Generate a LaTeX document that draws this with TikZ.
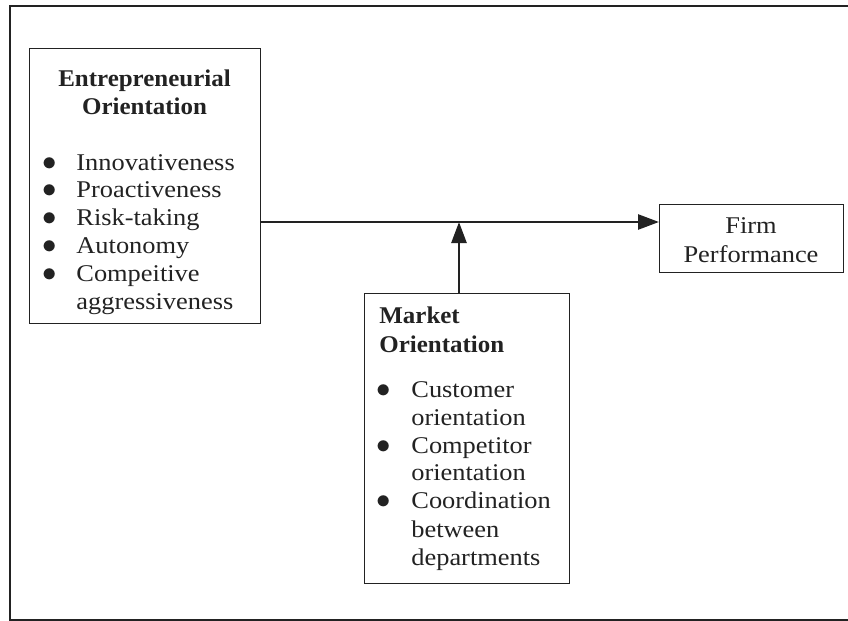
\documentclass[tikz,border=0pt]{standalone}
\usepackage{fontspec}
\setmainfont{Liberation Serif}[FakeStretch=1.1, BoldFeatures={FakeStretch=1.04}]
\usetikzlibrary{arrows.meta}
\definecolor{ink}{HTML}{222222}
\begin{document}
\begin{tikzpicture}[x=0.5pt,y=-0.5pt,
  box/.style={draw=ink, line width=0.7pt, inner sep=0pt, anchor=north west},
  txt/.style={inner sep=0pt, anchor=base west, text=ink, font=\fontsize{12}{14}\selectfont},
  ttl/.style={txt, font=\fontsize{12}{14}\selectfont\bfseries},
  dot/.style={inner sep=0pt, anchor=base, text=ink, font=\fontsize{14}{16}\selectfont},
  flow/.style={draw=ink, line width=1.3pt, -{Triangle[length=10.5pt,width=7.5pt]}}]
\useasboundingbox (0,0) rectangle (848,621);
% outer frame
\draw[draw=ink, line width=0.8pt] (10,6) rectangle (870,620);

% boxes
\node[box, minimum width=115.5pt, minimum height=137.5pt] (eo) at (29,48) {};
\node[box, minimum width=92pt, minimum height=34pt] (firm) at (659,204) {};
\node[box, minimum width=102.5pt, minimum height=145pt] (mo) at (364,293) {};

% entrepreneurial orientation
\node[ttl, anchor=base] (eot1) at (144.5,86) {Entrepreneurial};
\node[ttl, anchor=base] (eot2) at (144.5,114) {Orientation};
\foreach \t [count=\i from 0] in {Innovativeness,Proactiveness,Risk-taking,Autonomy,Compeitive,aggressiveness}
  \node[txt] (eo-\i) at (76,170+27.8*\i) {\t};
\foreach \i in {0,...,4}
  \node[dot] (eob-\i) at (50,170+27.8*\i) {$\bullet$};

% market orientation
\node[ttl] (mot1) at (379,323) {Market};
\node[ttl] (mot2) at (379,352) {Orientation};
\foreach \t/\y [count=\i] in {Customer/397,orientation/425,Competitor/453,orientation/480,Coordination/508,between/537,departments/565}
  \node[txt] (mo-\i) at (411,\y) {\t};
\foreach \y [count=\i] in {397,453,508}
  \node[dot] (mob-\i) at (384,\y) {$\bullet$};

% firm performance
\node[txt, anchor=base] (fp1) at (751,234) {Firm};
\node[txt, anchor=base] (fp2) at (751,262) {Performance};

% connectors
\coordinate (j) at (459,222);
\draw[flow] (eo.east |- j) -- (firm.west |- j);
\draw[flow] (j |- mo.north) -- (j);
\end{tikzpicture}
\end{document}
